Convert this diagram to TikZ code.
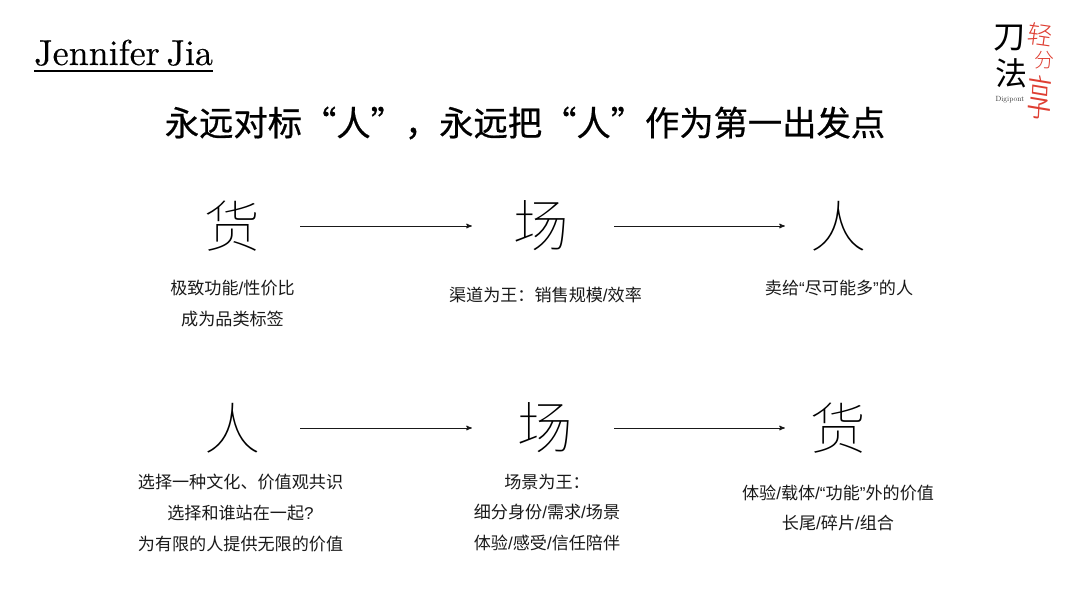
\documentclass[tikz,border=0pt]{standalone}
\usepackage{fontspec}
\newfontfamily\headfont{lmroman10-regular.otf}
\newfontfamily\namefont{lmroman10-regular.otf}[FakeBold=0.4,WordSpace=0.55]
\newfontfamily\cjk{Noto Sans CJK SC}
\newfontfamily\cjktitle{Noto Sans CJK SC}[FakeBold=0.6]
\newfontfamily\cjkthin{Noto Sans CJK SC}[UprightFont={* Thin}]
\newfontfamily\cjklight{Noto Sans CJK SC}[UprightFont={* Light}]
\newfontfamily\latn{Liberation Sans}
\usetikzlibrary{arrows}
\definecolor{logored}{RGB}{222,62,50}
\tikzset{
>=stealth',
  bigchar/.style = { inner sep=0pt, font=\cjkthin\fontsize{56}{56}\selectfont },
  flow/.style    = { ->, line width=1pt, black!90 },
  note/.style    = { inner sep=0pt, align=center, text=black!90,
                     font=\cjk\fontsize{17.1}{30.7}\selectfont },
  logo/.style    = { inner sep=0pt, font=\cjk\fontsize{32}{32}\selectfont },
  hand/.style    = { inner sep=0pt, text=logored, font=\cjklight\fontsize{25}{25}\selectfont }
}
\begin{document}
\begin{tikzpicture}[x=1pt,y=-1pt]
  \useasboundingbox (0,0) rectangle (1080,605);

  % Draw heading
  \node[inner sep=0pt, anchor=base west, font=\namefont\fontsize{36}{36}\selectfont] (name) at (34,65) {Jennifer Jia};
  \draw[line width=2pt] (name.base west |- 0,70.5) -- (name.base east |- 0,70.5);
  \node[inner sep=0pt, font=\cjktitle\fontsize{34.3}{34.3}\selectfont] (title) at (525,123) {永远对标“人”，永远把“人”作为第一出发点};

  % Draw logo
  \node[logo] (dao) at (1009,38) {刀};
  \node[logo] (fa)  at (1011,73) {法};
  \node[inner sep=0pt, font=\headfont\fontsize{7.5}{7.5}\selectfont, text=black!80] (digipont) at (1010,100) {Digipont};
  \node[hand, rotate=-8] (qing) at (1040,35) {轻};
  \node[hand, font=\cjklight\fontsize{20}{20}\selectfont] (fen) at (1044,60) {分};
  \node[hand, yscale=1.9, rotate=-5] (xiang) at (1040,97) {享};

  % Draw first row
  \node[bigchar] (huoA)   at (232,226) {货};
  \node[bigchar] (changA) at (541,226) {场};
  \node[bigchar] (renA)   at (838,226) {人};
  \draw[flow, shorten <=40pt, shorten >=41pt] (huoA) -- (changA);
  \draw[flow, shorten <=45pt, shorten >=25pt] (changA) -- (renA);

  \node[note] (noteA) at (232.5,303.5) {极致功能{\latn/}性价比\\成为品类标签};
  \node[note] (noteB) at (545.5,295) {渠道为王：销售规模{\latn/}效率};
  \node[note] (noteC) at (839,288) {卖给{\latn“}尽可能多{\latn”}的人};

  % Draw second row
  \node[bigchar] (renB)   at (232,428) {人};
  \node[bigchar] (changB) at (545,428) {场};
  \node[bigchar] (huoB)   at (838,428) {货};
  \draw[flow, shorten <=40pt, shorten >=45pt] (renB) -- (changB);
  \draw[flow, shorten <=41pt, shorten >=25pt] (changB) -- (huoB);

  \node[note] (noteD) at (240.5,513) {选择一种文化、价值观共识\\选择和谁站在一起{\latn?}\\为有限的人提供无限的价值};
  \node[note] (noteE) at (547,512.5) {场景为王：\\细分身份{\latn/}需求{\latn/}场景\\体验{\latn/}感受{\latn/}信任陪伴};
  \node[note] (noteF) at (838,508) {体验{\latn/}载体{\latn/“}功能{\latn”}外的价值\\长尾{\latn/}碎片{\latn/}组合};
\end{tikzpicture}
\end{document}
